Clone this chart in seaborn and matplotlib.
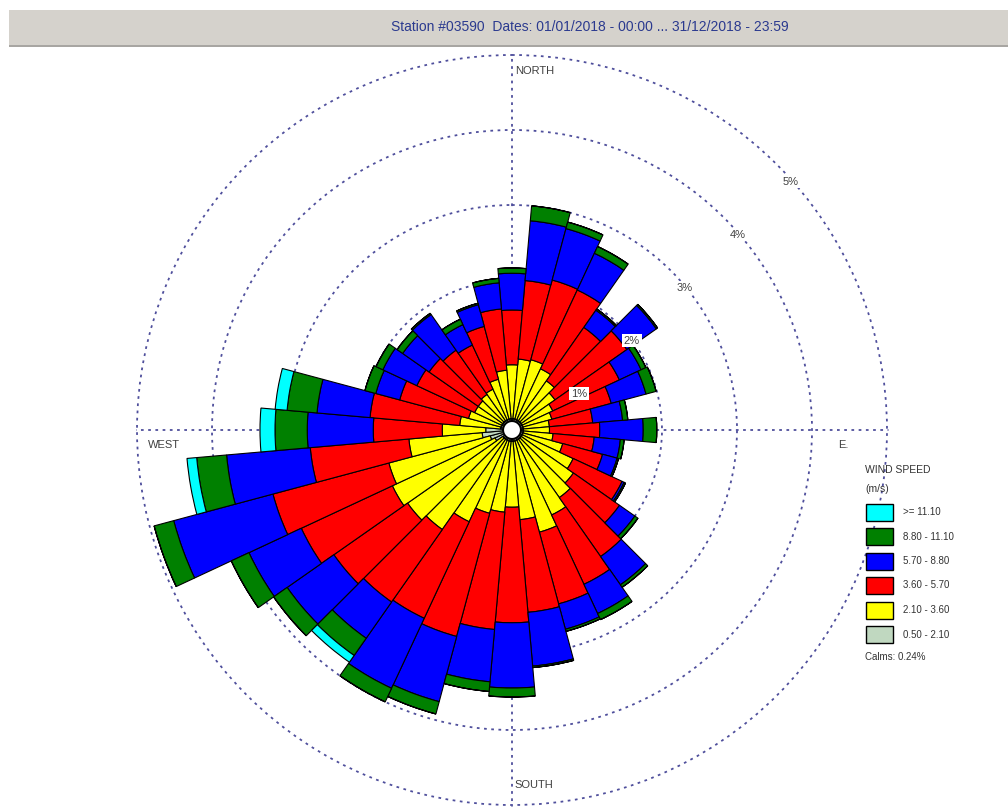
import numpy as np
import matplotlib
matplotlib.use('Agg')
import matplotlib.pyplot as plt
from matplotlib.patches import Rectangle
import seaborn as sns

# wind directions (deg, clockwise from north) and frequencies (%) per speed class
directions = list(range(0, 360, 10))
calms = 0.24

speed_labels = ['0.50 - 2.10', '2.10 - 3.60', '3.60 - 5.70', '5.70 - 8.80', '8.80 - 11.10', '>= 11.10']

freq_050_210 = [0.15, 0.15, 0.15, 0.15, 0.15, 0.15, 0.15, 0.15, 0.15, 0.15, 0.15, 0.15,
                0.15, 0.15, 0.15, 0.15, 0.15, 0.15, 0.15, 0.15, 0.15, 0.15, 0.15, 0.15,
                0.25, 0.30, 0.40, 0.35, 0.15, 0.15, 0.15, 0.15, 0.15, 0.15, 0.15, 0.15]
freq_210_360 = [0.72, 0.80, 0.82, 0.75, 0.65, 0.55, 0.45, 0.40, 0.35, 0.35, 0.40, 0.55,
                0.75, 0.85, 0.95, 1.10, 1.26, 1.05, 0.88, 0.95, 1.00, 1.20, 1.47, 1.55,
                1.51, 1.40, 0.98, 0.58, 0.55, 0.45, 0.40, 0.40, 0.43, 0.45, 0.55, 0.65]
freq_360_570 = [0.73, 1.05, 1.10, 1.16, 0.87, 1.17, 0.98, 0.82, 0.58, 0.67, 0.55, 0.55,
                0.72, 0.75, 0.96, 1.02, 0.99, 1.24, 1.54, 1.57, 1.70, 1.42, 1.18, 1.20,
                1.34, 1.60, 1.32, 0.92, 1.20, 0.95, 0.85, 0.80, 0.72, 0.65, 0.73, 0.82]
freq_570_880 = [0.49, 0.80, 0.71, 0.54, 0.28, 0.48, 0.32, 0.48, 0.40, 0.58, 0.35, 0.20,
                0.03, 0.25, 0.46, 0.43, 0.35, 0.72, 0.87, 0.70, 0.90, 1.03, 0.59, 0.76,
                0.77, 1.37, 1.12, 0.88, 0.71, 0.33, 0.50, 0.43, 0.58, 0.30, 0.30, 0.35]
freq_880_1110 = [0.07, 0.20, 0.09, 0.10, 0.02, 0.02, 0.07, 0.14, 0.07, 0.18, 0.05, 0.02,
                 0.02, 0.05, 0.04, 0.09, 0.03, 0.02, 0.12, 0.13, 0.17, 0.20, 0.28, 0.22,
                 0.26, 0.27, 0.40, 0.43, 0.40, 0.15, 0.10, 0.09, 0.02, 0.08, 0.02, 0.06]
freq_1110_up = [0.0, 0.0, 0.0, 0.0, 0.0, 0.0, 0.0, 0.0, 0.0, 0.0, 0.0, 0.0,
                0.0, 0.0, 0.0, 0.0, 0.0, 0.0, 0.0, 0.0, 0.0, 0.0, 0.11, 0.0,
                0.0, 0.0, 0.13, 0.20, 0.16, 0.0, 0.0, 0.0, 0.0, 0.0, 0.0, 0.0]

ring_pcts = [1, 2, 3, 4, 5]

sns.set_style('white')
colors = sns.color_palette(['#c0d8c0', '#ffff00', '#ff0000', '#0000ff', '#008000', '#00ffff'])
plt.rcParams['font.family'] = ['Liberation Sans', 'DejaVu Sans']

W, H = 1008, 811
fig = plt.figure(figsize=(W / 100, H / 100), dpi=100)

# grey header band with title
fig.patches.append(Rectangle((9 / W, 1 - 45 / H), 1, 35 / H, transform=fig.transFigure,
                             facecolor='#d5d2cc', edgecolor='none'))
fig.patches.append(Rectangle((9 / W, 1 - 47 / H), 1, 2 / H, transform=fig.transFigure,
                             facecolor='#a8a6a2', edgecolor='none'))
fig.text(590 / W, 1 - 27 / H, 'Station #03590  Dates: 01/01/2018 - 00:00 ... 31/12/2018 - 23:59',
         color='#2b3a8f', fontsize=10, ha='center', va='center')

# polar axes centred on (512, 430) px
cx, cy = 512, 430
rmax = 5.02
R = rmax * 75
ax = fig.add_axes([(cx - R) / W, (H - cy - R) / H, 2 * R / W, 2 * R / H], projection='polar')
ax.set_theta_zero_location('N')
ax.set_theta_direction(-1)
ax.set_ylim(0, rmax)
ax.set_axisbelow(True)
ax.spines['polar'].set_visible(False)
ax.set_rgrids(ring_pcts, labels=[])
ax.set_thetagrids([0, 90, 180, 270], labels=[])
ax.grid(True, color='#4f4f9c', linestyle=(0, (1.5, 2.5)), linewidth=1.3)

theta = np.radians(directions)
width = np.radians(10)
layers = [freq_050_210, freq_210_360, freq_360_570, freq_570_880, freq_880_1110, freq_1110_up]
bottom = np.zeros(len(directions))
for vals, col in zip(layers, colors):
    vals = np.array(vals)
    ax.bar(theta, vals, width=width, bottom=bottom, color=col, edgecolor='black',
           linewidth=0.8, zorder=3)
    bottom = bottom + vals

# calm circle
t = np.linspace(0, 2 * np.pi, 200)
ax.fill(t, np.full_like(t, 0.12), color='white', zorder=6)
ax.plot(t, np.full_like(t, 0.12), color='black', lw=1.5, zorder=7)

# ring labels along 45 deg
for k in ring_pcts:
    ax.annotate(f'{k}%', xy=(np.radians(45), k), xytext=(10, -12), textcoords='offset points',
                ha='center', va='center', fontsize=8, color='#404040', zorder=8,
                bbox=dict(boxstyle='square,pad=0.15', facecolor='white', edgecolor='none'))

# compass labels
lab = dict(fontsize=8, color='#404040', ha='left', va='center', textcoords='offset points', zorder=8)
ax.annotate('NORTH', xy=(0, 4.79), xytext=(2, 0), **lab)
ax.annotate('SOUTH', xy=(np.pi, 4.73), xytext=(2, 0), **lab)
ax.annotate('WEST', xy=(np.radians(270), 5.0), xytext=(8, -11), **lab)
ax.annotate('E.', xy=(np.radians(90), 4.35), xytext=(0, -11), **lab)

# legend
fig.text(865 / W, 1 - 470 / H, 'WIND SPEED', fontsize=7.5, color='#333333', va='center')
fig.text(865 / W, 1 - 489 / H, '(m/s)', fontsize=7.5, color='#333333', va='center')
for i, (label, col) in enumerate(zip(speed_labels[::-1], list(colors)[::-1])):
    yc = 512 + 24.5 * i
    fig.patches.append(Rectangle((866 / W, 1 - (yc + 8.5) / H), 27 / W, 17 / H,
                                 transform=fig.transFigure, facecolor=col,
                                 edgecolor='black', linewidth=1))
    fig.text(903 / W, 1 - yc / H, label, fontsize=7, color='#333333', va='center')
fig.text(865 / W, 1 - 657 / H, f'Calms: {calms}%', fontsize=7, color='#333333', va='center')

fig.savefig('out.png', dpi=100, facecolor='white')
